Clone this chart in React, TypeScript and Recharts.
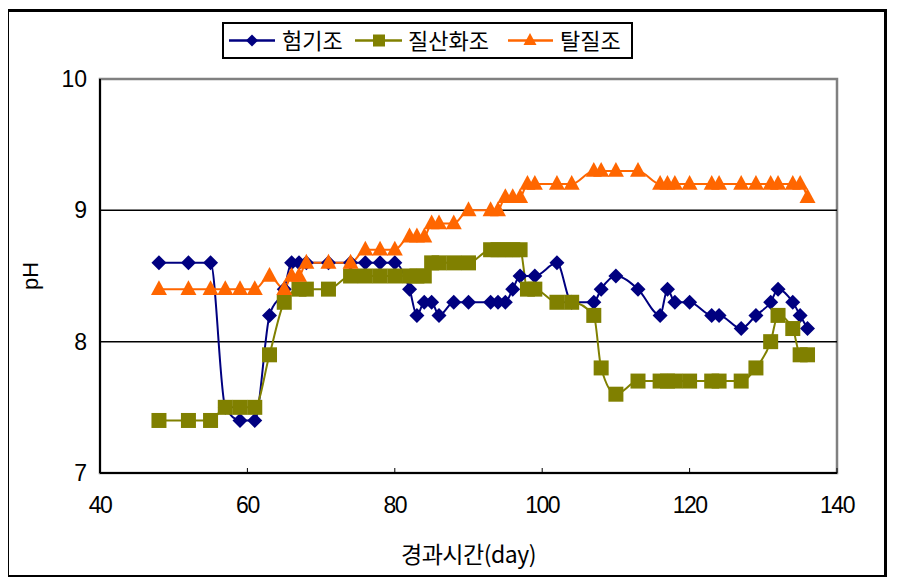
import { LineChart, Line, XAxis, YAxis, ReferenceLine, ReferenceArea, Legend } from "recharts"

// 험기조 (navy diamonds)
const aerobicDays = [48, 52, 55, 57, 59, 61, 63, 65, 66, 67, 68, 71, 74, 76, 78, 80, 82, 83, 84, 85, 86, 88, 90, 93, 94, 95, 96, 97, 99, 102, 104, 107, 108, 110, 113, 116, 117, 118, 120, 123, 124, 127, 129, 131, 132, 134, 135, 136]
const aerobicPH = [8.6, 8.6, 8.6, 7.5, 7.4, 7.4, 8.2, 8.4, 8.6, 8.6, 8.6, 8.6, 8.6, 8.6, 8.6, 8.6, 8.4, 8.2, 8.3, 8.3, 8.2, 8.3, 8.3, 8.3, 8.3, 8.3, 8.4, 8.5, 8.5, 8.6, 8.3, 8.3, 8.4, 8.5, 8.4, 8.2, 8.4, 8.3, 8.3, 8.2, 8.2, 8.1, 8.2, 8.3, 8.4, 8.3, 8.2, 8.1]

// 질산화조 (olive squares)
const nitrifDays = [48, 52, 55, 57, 59, 61, 63, 65, 67, 68, 71, 74, 76, 78, 80, 82, 83, 84, 85, 86, 88, 90, 93, 94, 95, 96, 97, 98, 99, 102, 104, 107, 108, 110, 113, 116, 117, 118, 120, 123, 124, 127, 129, 131, 132, 134, 135, 136]
const nitrifPH = [7.4, 7.4, 7.4, 7.5, 7.5, 7.5, 7.9, 8.3, 8.4, 8.4, 8.4, 8.5, 8.5, 8.5, 8.5, 8.5, 8.5, 8.5, 8.6, 8.6, 8.6, 8.6, 8.7, 8.7, 8.7, 8.7, 8.7, 8.4, 8.4, 8.3, 8.3, 8.2, 7.8, 7.6, 7.7, 7.7, 7.7, 7.7, 7.7, 7.7, 7.7, 7.7, 7.8, 8.0, 8.2, 8.1, 7.9, 7.9]

// 탈질조 (orange triangles)
const denitDays = [48, 52, 55, 57, 59, 61, 63, 65, 66, 67, 68, 71, 74, 76, 78, 80, 82, 83, 84, 85, 86, 88, 90, 93, 94, 95, 96, 97, 98, 99, 102, 104, 107, 108, 110, 113, 116, 117, 118, 120, 123, 124, 127, 129, 131, 132, 134, 135, 136]
const denitPH = [8.4, 8.4, 8.4, 8.4, 8.4, 8.4, 8.5, 8.4, 8.5, 8.5, 8.6, 8.6, 8.6, 8.7, 8.7, 8.7, 8.8, 8.8, 8.8, 8.9, 8.9, 8.9, 9.0, 9.0, 9.0, 9.1, 9.1, 9.1, 9.2, 9.2, 9.2, 9.2, 9.3, 9.3, 9.3, 9.3, 9.2, 9.2, 9.2, 9.2, 9.2, 9.2, 9.2, 9.2, 9.2, 9.2, 9.2, 9.2, 9.1]

const seriesNames = ["험기조", "질산화조", "탈질조"]
const xTicks = [40, 60, 80, 100, 120, 140]
const yTicks = [7, 8, 9, 10]

const NAVY = "#000080"
const OLIVE = "#808000"
const ORANGE = "#ff6600"

const toPoints = (days: number[], values: number[]) => days.map((day, i) => ({ day, pH: values[i] }))

const aerobic = toPoints(aerobicDays, aerobicPH)
const nitrif = toPoints(nitrifDays, nitrifPH)
const denit = toPoints(denitDays, denitPH)

const diamond = (cx: number, cy: number, r: number) =>
  `${cx},${cy - r} ${cx + r},${cy} ${cx},${cy + r} ${cx - r},${cy}`
const triangle = (cx: number, cy: number, r: number) =>
  `${cx},${cy - r} ${cx + r},${cy + r * 0.85} ${cx - r},${cy + r * 0.85}`

const DiamondDot = (props: any) => {
  const { cx, cy, index } = props
  if (cx == null || cy == null) return <g key={`dd-${index}`} />
  return <polygon key={`dd-${index}`} points={diamond(cx, cy, 7.5)} fill={NAVY} />
}

const SquareDot = (props: any) => {
  const { cx, cy, index } = props
  if (cx == null || cy == null) return <g key={`sd-${index}`} />
  return <rect key={`sd-${index}`} x={cx - 7.5} y={cy - 7.5} width={15} height={15} fill={OLIVE} />
}

const TriangleDot = (props: any) => {
  const { cx, cy, index } = props
  if (cx == null || cy == null) return <g key={`td-${index}`} />
  return <polygon key={`td-${index}`} points={triangle(cx, cy - 1, 8)} fill={ORANGE} />
}

const LegendBox = () => {
  const cy = 16.5
  const font = { fontFamily: "'Noto Sans CJK KR', sans-serif", fontSize: 22 }
  return (
    <div style={{ width: 411, height: 37, border: "2px solid #000", boxSizing: "border-box", background: "#fff" }}>
      <svg width={407} height={33} style={{ display: "block" }}>
        <line x1={5} x2={51} y1={cy} y2={cy} stroke={NAVY} strokeWidth={2.5} />
        <polygon points={diamond(28, cy, 6)} fill={NAVY} />
        <text x={58} y={cy + 8} {...font}>{seriesNames[0]}</text>

        <line x1={131} x2={178} y1={cy} y2={cy} stroke={OLIVE} strokeWidth={2.5} />
        <rect x={149} y={cy - 6} width={12} height={12} fill={OLIVE} />
        <text x={184} y={cy + 8} {...font}>{seriesNames[1]}</text>

        <line x1={284} x2={329} y1={cy} y2={cy} stroke={ORANGE} strokeWidth={2.5} />
        <polygon points={triangle(306, cy - 1, 6.5)} fill={ORANGE} />
        <text x={336} y={cy + 8} {...font}>{seriesNames[2]}</text>
      </svg>
    </div>
  )
}

export default function App() {
  const tickFont = { fontFamily: "'Liberation Sans', Arial, sans-serif", fontSize: 23, fill: "#000" }
  return (
    <div
      style={{
        position: "relative",
        left: -2,
        top: 1,
        width: 881,
        height: 569,
        border: "3px solid #000",
        boxSizing: "border-box",
        background: "#fff",
      }}
    >
      <LineChart width={875} height={563} margin={{ top: 67, right: 47, bottom: 5, left: 10 }}>
        <ReferenceArea x1={40} x2={140} y1={7} y2={10} fill="none" stroke="#808080" strokeWidth={2.5} ifOverflow="visible" />
        <ReferenceLine y={8} stroke="#000" strokeWidth={1.5} />
        <ReferenceLine y={9} stroke="#000" strokeWidth={1.5} />
        <XAxis
          dataKey="day"
          type="number"
          domain={[40, 140]}
          ticks={xTicks}
          allowDataOverflow
          height={97}
          tickSize={-5}
          tickMargin={29}
          tick={{ ...tickFont, letterSpacing: -1.5 }}
          stroke="#000"
          axisLine={{ stroke: "#000", strokeWidth: 2 }}
          label={{
            value: "경과시간(day)",
            position: "insideBottom",
            offset: 7,
            style: { fontFamily: "'Noto Sans CJK KR', sans-serif", fontSize: 23, letterSpacing: -0.5, fill: "#000" },
          }}
        />
        <YAxis
          type="number"
          domain={[7, 10]}
          ticks={yTicks}
          width={81}
          tickLine={false}
          tickSize={0}
          tickMargin={13}
          tick={tickFont}
          axisLine={{ stroke: "#000", strokeWidth: 2 }}
          label={{
            value: "pH",
            angle: -90,
            position: "insideLeft",
            offset: 11,
            style: { textAnchor: "middle", fontFamily: "'Liberation Sans', Arial, sans-serif", fontSize: 22, fill: "#000" },
          }}
        />
        <Legend
          layout="horizontal"
          verticalAlign="middle"
          align="center"
          wrapperStyle={{ left: 213, top: 10, width: 411, height: 37 }}
          content={() => <LegendBox />}
        />
        <Line
          data={aerobic}
          dataKey="pH"
          name={seriesNames[0]}
          type="monotone"
          stroke={NAVY}
          strokeWidth={2}
          dot={DiamondDot}
          activeDot={false}
          isAnimationActive={false}
        />
        <Line
          data={nitrif}
          dataKey="pH"
          name={seriesNames[1]}
          type="monotone"
          stroke={OLIVE}
          strokeWidth={2}
          dot={SquareDot}
          activeDot={false}
          isAnimationActive={false}
        />
        <Line
          data={denit}
          dataKey="pH"
          name={seriesNames[2]}
          type="monotone"
          stroke={ORANGE}
          strokeWidth={2}
          dot={TriangleDot}
          activeDot={false}
          isAnimationActive={false}
        />
      </LineChart>
    </div>
  )
}
